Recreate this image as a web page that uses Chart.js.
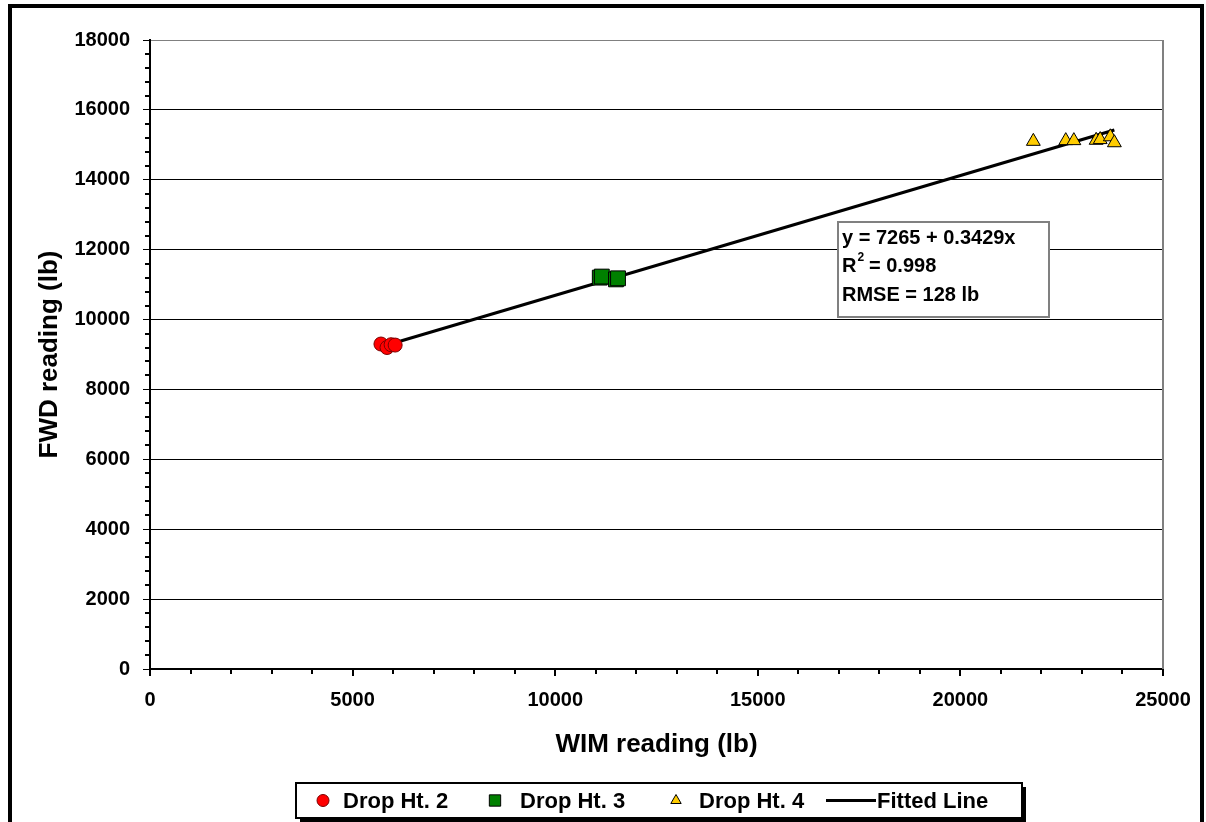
<!DOCTYPE html>
<html>
<head>
<meta charset="utf-8">
<title>FWD vs WIM reading</title>
<script src="https://cdn.jsdelivr.net/npm/chart.js@4.4.1/dist/chart.umd.min.js"></script>
<style>
  html, body { margin: 0; padding: 0; background: #fff; }
  canvas { display: block; }
</style>
</head>
<body>
<canvas id="fwdChart" width="1206" height="822"></canvas>
<script>
// WIM / FWD readings (lb) per drop height
const drop2Wim = [5700, 5850, 5950, 6050];
const drop2Fwd = [9300, 9200, 9280, 9270];
const drop3Wim = [11100, 11150, 11500, 11550];
const drop3Fwd = [11200, 11230, 11150, 11180];
const drop4Wim = [21800, 22600, 22800, 23350, 23450, 23700, 23800];
const drop4Fwd = [15100, 15120, 15120, 15130, 15150, 15230, 15060];

// regression: y = 7265 + 0.3429x
const fitIntercept = 7265;
const fitSlope = 0.3429;
const fitR2 = '0.998';
const fitRmse = '128 lb';
const fitWim = [5750, 23800];

const xTicks = [0, 5000, 10000, 15000, 20000, 25000];
const yTicks = [0, 2000, 4000, 6000, 8000, 10000, 12000, 14000, 16000, 18000];

const FONT = '"Liberation Sans", Arial, sans-serif';

function toPoints(xs, ys) {
    return xs.map((x, i) => ({ x: x, y: ys[i] }));
}

const fitPoints = fitWim.map(x => ({ x: x, y: fitIntercept + fitSlope * x }));

// frame, minor ticks, axis titles, stats box and legend
const decorPlugin = {
    id: 'decor',
    beforeDraw(chart) {
        const c = chart.ctx;
        c.save();
        c.fillStyle = '#fff';
        c.fillRect(0, 0, chart.width, chart.height);
        c.restore();
    },
    afterDraw(chart) {
        const c = chart.ctx;
        const area = chart.chartArea;
        const xs = chart.scales.x;
        const ys = chart.scales.y;
        c.save();

        // plot area right edge
        c.strokeStyle = '#808080';
        c.lineWidth = 2;
        c.beginPath();
        c.moveTo(area.right, area.top);
        c.lineTo(area.right, area.bottom);
        c.stroke();

        // minor ticks
        c.strokeStyle = '#000';
        c.lineWidth = 2;
        c.beginPath();
        for (let v = 1000; v < 25000; v += 1000) {
            if (v % 5000 === 0) continue;
            const px = Math.round(xs.getPixelForValue(v));
            c.moveTo(px, area.bottom);
            c.lineTo(px, area.bottom + 5);
        }
        for (let v = 400; v < 18000; v += 400) {
            if (v % 2000 === 0) continue;
            const py = Math.round(ys.getPixelForValue(v));
            c.moveTo(area.left, py);
            c.lineTo(area.left - 5, py);
        }
        c.stroke();

        // axis titles
        c.fillStyle = '#000';
        c.font = 'bold 26px ' + FONT;
        c.textAlign = 'center';
        c.textBaseline = 'middle';
        c.fillText('WIM reading (lb)', (area.left + area.right) / 2, 745);
        c.save();
        c.translate(50, (area.top + area.bottom) / 2);
        c.rotate(-Math.PI / 2);
        c.fillText('FWD reading (lb)', 0, 0);
        c.restore();

        // regression stats box
        const bx = 838, by = 222, bw = 211, bh = 95;
        c.fillStyle = '#fff';
        c.fillRect(bx, by, bw, bh);
        c.strokeStyle = '#808080';
        c.lineWidth = 2;
        c.strokeRect(bx, by, bw, bh);
        c.fillStyle = '#000';
        c.textAlign = 'left';
        c.textBaseline = 'middle';
        c.font = 'bold 20px ' + FONT;
        c.fillText('y = ' + fitIntercept + ' + ' + fitSlope + 'x', bx + 4, by + 16);
        c.fillText('R', bx + 4, by + 44);
        const rw = c.measureText('R').width;
        c.font = 'bold 12px ' + FONT;
        c.fillText('2', bx + 5 + rw, by + 36);
        c.font = 'bold 20px ' + FONT;
        c.fillText(' = ' + fitR2, bx + 11 + rw, by + 44);
        c.fillText('RMSE = ' + fitRmse, bx + 4, by + 73);

        // legend
        const lx = 296, ly = 783, lw = 726, lh = 35;
        c.fillStyle = '#000';
        c.fillRect(lx + 4, ly + 4, lw, lh);
        c.fillStyle = '#fff';
        c.fillRect(lx, ly, lw, lh);
        c.strokeStyle = '#000';
        c.lineWidth = 2;
        c.strokeRect(lx, ly, lw, lh);

        const my = ly + lh / 2;
        const items = [
            { ds: 0, mx: 323, tx: 343, r: 6 },
            { ds: 1, mx: 495, tx: 520, r: 8 },
            { ds: 2, mx: 676, tx: 699, r: 6 },
            { ds: 3, mx: 0, tx: 877, r: 0 }
        ];
        c.font = 'bold 22px ' + FONT;
        c.textBaseline = 'middle';
        items.forEach(it => {
            const ds = chart.data.datasets[it.ds];
            if (it.r > 0) {
                c.fillStyle = ds.backgroundColor;
                c.strokeStyle = ds.borderColor;
                c.lineWidth = ds.borderWidth;
                Chart.helpers.drawPoint(c, { pointStyle: ds.pointStyle, radius: it.r, borderWidth: ds.borderWidth, rotation: 0 }, it.mx, my);
            } else {
                c.strokeStyle = ds.borderColor;
                c.lineWidth = 3;
                c.beginPath();
                c.moveTo(826, my);
                c.lineTo(876, my);
                c.stroke();
            }
            c.fillStyle = '#000';
            c.fillText(ds.label, it.tx, my + 1);
        });

        // outer frame
        c.strokeStyle = '#000';
        c.lineWidth = 4;
        c.strokeRect(10, 6, 1192, 830);
        c.restore();
    }
};

const plainNumber = v => String(v);

const ctx = document.getElementById('fwdChart').getContext('2d');
new Chart(ctx, {
    type: 'scatter',
    data: {
        datasets: [
            {
                label: 'Drop Ht. 2',
                data: toPoints(drop2Wim, drop2Fwd),
                pointStyle: 'circle',
                pointRadius: 7,
                backgroundColor: '#ff0000',
                borderColor: '#7a0000',
                borderWidth: 1,
                order: 1
            },
            {
                label: 'Drop Ht. 3',
                data: toPoints(drop3Wim, drop3Fwd),
                pointStyle: 'rect',
                pointRadius: 10.5,
                backgroundColor: '#008000',
                borderColor: '#000',
                borderWidth: 1,
                order: 2
            },
            {
                label: 'Drop Ht. 4',
                data: toPoints(drop4Wim, drop4Fwd),
                pointStyle: 'triangle',
                pointRadius: 8,
                backgroundColor: '#ffcc00',
                borderColor: '#000',
                borderWidth: 1,
                order: 3
            },
            {
                label: 'Fitted Line',
                type: 'line',
                data: fitPoints,
                borderColor: '#000',
                borderWidth: 3,
                pointRadius: 0,
                fill: false,
                order: 4
            }
        ]
    },
    options: {
        responsive: false,
        animation: false,
        layout: { padding: { left: 0, top: 40, right: 43, bottom: 0 } },
        plugins: {
            legend: { display: false },
            tooltip: { enabled: false }
        },
        scales: {
            x: {
                type: 'linear',
                min: xTicks[0],
                max: xTicks[xTicks.length - 1],
                afterBuildTicks: s => { s.ticks = xTicks.map(v => ({ value: v })); },
                afterFit: s => { s.height = 153; },
                ticks: {
                    color: '#000',
                    padding: 12,
                    maxRotation: 0,
                    callback: plainNumber,
                    font: { family: FONT, size: 20, weight: 'bold' }
                },
                grid: { drawOnChartArea: false, tickLength: 7, color: '#000', lineWidth: 2 },
                border: { color: '#000', width: 2 }
            },
            y: {
                type: 'linear',
                min: yTicks[0],
                max: yTicks[yTicks.length - 1],
                afterBuildTicks: s => { s.ticks = yTicks.map(v => ({ value: v })); },
                afterFit: s => { s.width = 150; },
                ticks: {
                    color: '#000',
                    padding: 13,
                    callback: plainNumber,
                    font: { family: FONT, size: 20, weight: 'bold' }
                },
                grid: {
                    color: c => (c.tick && c.tick.value === 18000) ? '#808080' : '#000',
                    tickColor: '#000',
                    lineWidth: 1,
                    tickLength: 7
                },
                border: { color: '#000', width: 2 }
            }
        }
    },
    plugins: [decorPlugin]
});
</script>
</body>
</html>
